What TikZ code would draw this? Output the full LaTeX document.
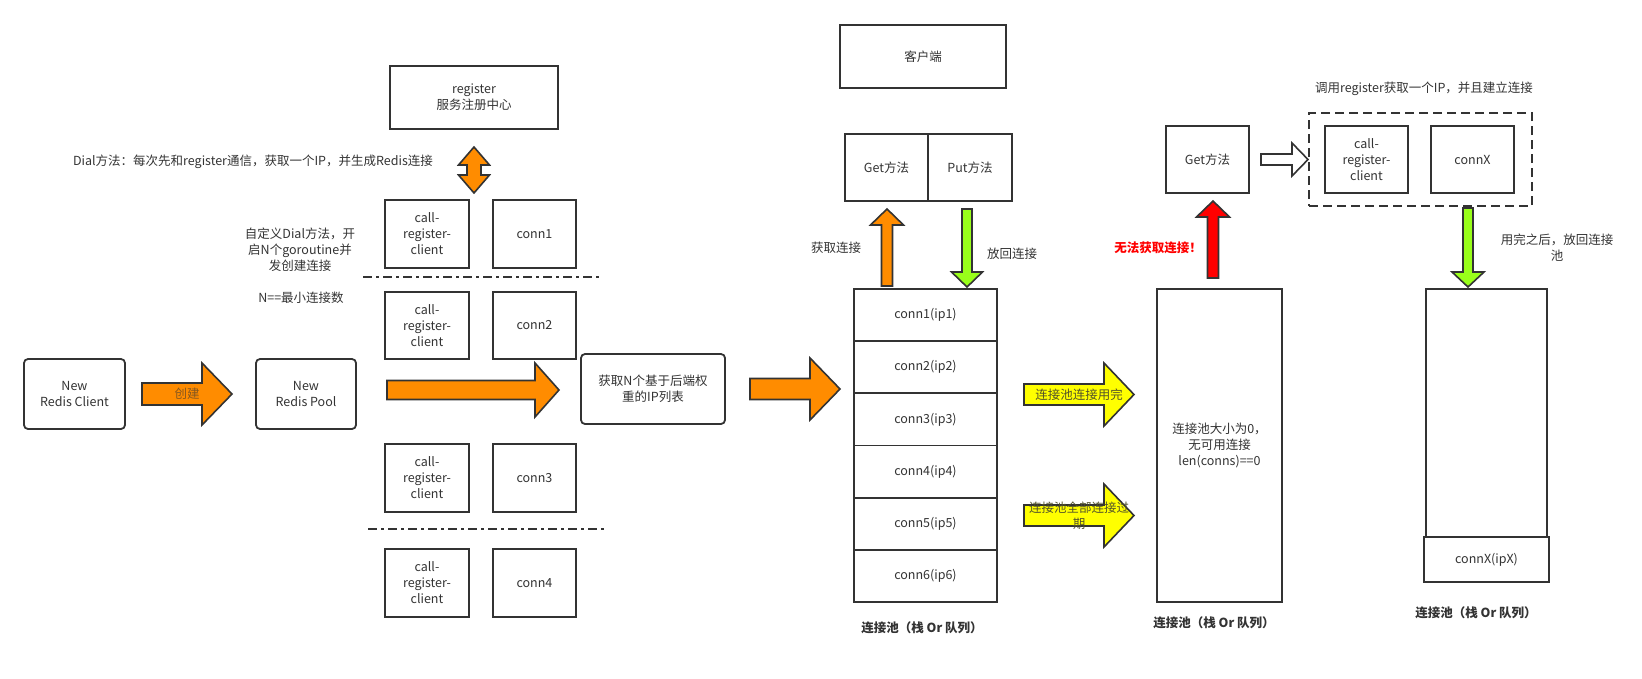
\documentclass[tikz,border=0pt]{standalone}
\usepackage{fontspec}
\setmainfont{Noto Sans CJK SC}
\definecolor{linec}{HTML}{333333}
\definecolor{textc}{HTML}{333333}
\definecolor{orangef}{HTML}{FF8C00}
\definecolor{greenf}{HTML}{99FF1A}
\definecolor{redf}{HTML}{FF0000}
\definecolor{yellowf}{HTML}{FFFF00}
\newcommand\blkR[7]{% fill, x tail, x head base, x tip, y centre, body half, head half
  \filldraw[blk, fill=#1] (#2,#5-#6) -- (#3,#5-#6) -- (#3,#5-#7) -- (#4,#5) -- (#3,#5+#7) -- (#3,#5+#6) -- (#2,#5+#6) -- cycle;}
\newcommand\blkV[7]{% fill, x centre, y tail, y head base, y tip, body half, head half
  \filldraw[blk, fill=#1] (#2-#6,#3) -- (#2-#6,#4) -- (#2-#7,#4) -- (#2,#5) -- (#2+#7,#4) -- (#2+#6,#4) -- (#2+#6,#3) -- cycle;}
\begin{document}
\begin{tikzpicture}[x=1pt,y=-1pt,
  font=\fontsize{12.5}{16}\selectfont, text=textc,
  box/.style={draw=linec, line width=1.8pt, fill=white, align=center, inner sep=0pt},
  rbox/.style={box, rounded corners=4pt},
  lbl/.style={align=center, inner sep=0pt},
  blk/.style={draw=linec, line width=1.6pt, line join=miter},
  dashdot/.style={draw=linec, line width=2pt, dash pattern=on 9pt off 4pt on 3pt off 4pt},
  plabel/.style={lbl, font=\fontsize{12.5}{16}\selectfont\bfseries}]
\useasboundingbox (0,0) rectangle (1642,678);

% ---------- left part ----------
\node[rbox, minimum width=101pt, minimum height=70pt] (client) at (74.5,394) {New\\Redis Client};
\node[rbox, minimum width=100pt, minimum height=70pt] (pool) at (306,394) {New\\Redis Pool};
\blkR{orangef}{142}{202}{232}{394}{11}{31}
\node[lbl, text=textc!60!orangef] (cj) at (187,394) {创建};

\node[box, minimum width=168pt, minimum height=63pt] (register) at (474,97.5) {register\\服务注册中心};
\filldraw[blk, fill=orangef] (474,147) -- (489.5,165) -- (481,165) -- (481,175) -- (489.5,175) -- (474,193)
  -- (458.5,175) -- (467,175) -- (467,165) -- (458.5,165) -- cycle;
\node[lbl] (dial) at (253,162) {Dial方法：每次先和register通信，获取一个IP，并生成Redis连接};
\node[lbl] (custom) at (300,250) {自定义Dial方法，开\\启N个goroutine并\\发创建连接};
\node[lbl] (nmin) at (301,298) {N==最小连接数};

\foreach \i/\cy/\h in {1/234/68, 2/325.5/67, 3/478/68, 4/583/68}{
  \node[box, minimum width=84pt, minimum height=\h pt] (crc\i) at (427,\cy) {call-\\register-\\client};
  \node[box, minimum width=83pt, minimum height=\h pt] (conn\i) at (534.5,\cy) {conn\i};
}
\coordinate (d1a) at (363,277); \coordinate (d1b) at (602,277);
\coordinate (d2a) at (368,529); \coordinate (d2b) at (607,529);
\draw[dashdot] (d1a) -- (d1b);
\draw[dashdot] (d2a) -- (d2b);

\blkR{orangef}{387}{535}{559}{390}{9.5}{27}
\node[rbox, minimum width=144pt, minimum height=70pt] (iplist) at (653,389) {获取N个基于后端权\\重的IP列表};
\blkR{orangef}{750}{810}{840}{389}{10.5}{31}

% ---------- middle part ----------
\node[box, minimum width=166pt, minimum height=63pt] (kehu) at (923,56.5) {客户端};
\node[box, minimum width=83pt, minimum height=67pt] (get) at (886.5,167.5) {Get方法};
\node[box, minimum width=84pt, minimum height=67pt] (put) at (970,167.5) {Put方法};
\foreach \i in {1,...,6}{
  \node[box, minimum width=143pt, minimum height=52.17pt] (s\i) at (925.5,289+52.17*\i-26.085) {conn\i(ip\i)};
}
\node[plabel] (slabel) at (922,628) {连接池（栈 Or 队列）};
\blkV{orangef}{887}{286}{225}{209}{5.5}{16.5}
\blkV{greenf}{967}{209}{272}{287}{5}{15.5}
\node[lbl] (hq) at (836,248) {获取连接};
\node[lbl] (fh) at (1012,254) {放回连接};

\blkR{yellowf}{1024}{1104}{1134}{394.5}{10.5}{31.5}
\node[lbl, text=textc!85!yellowf] (y1) at (1079,395) {连接池连接用完};
\blkR{yellowf}{1024}{1104}{1134}{515.5}{10.5}{31.5}
\node[lbl, text=textc!85!yellowf] (y2) at (1079,516) {连接池全部连接过\\期};

% ---------- empty pool ----------
\node[box, minimum width=125pt, minimum height=313pt] (pool2) at (1219.5,445.5) {连接池大小为0，\\无可用连接\\len(conns)==0};
\node[plabel] (p2label) at (1214,623) {连接池（栈 Or 队列）};
\node[box, minimum width=83pt, minimum height=67pt] (get2) at (1207.5,159.5) {Get方法};
\blkV{redf}{1213}{278}{217}{201}{5.5}{16.5}
\node[lbl, text=redf, font=\fontsize{12.5}{16}\selectfont\bfseries] (nofail) at (1158,248) {无法获取连接！};

% ---------- right part ----------
\node[lbl] (callreg) at (1424,89) {调用register获取一个IP，并且建立连接};
\node[draw=linec, line width=2pt, dash pattern=on 9pt off 5pt, minimum width=223pt, minimum height=93pt, inner sep=0pt] (dbox) at (1420.5,159.5) {};
\node[box, minimum width=83pt, minimum height=67pt] (crcX) at (1366.5,159.5) {call-\\register-\\client};
\node[box, minimum width=83pt, minimum height=67pt] (connX) at (1472.5,159.5) {connX};
\filldraw[blk, fill=white] (1261,154) -- (1292,154) -- (1292,143) -- (1308,159.5) -- (1292,176) -- (1292,165) -- (1261,165) -- cycle;
\blkV{greenf}{1468}{208}{272}{287}{5}{16}
\node[lbl] (ywan) at (1557,248) {用完之后，放回连接\\池};
\node[box, minimum width=121pt, minimum height=248pt] (pool3) at (1486.5,413) {};
\node[box, minimum width=125pt, minimum height=45pt] (connXip) at (1486.5,559.5) {connX(ipX)};
\node[plabel] (p3label) at (1476,613) {连接池（栈 Or 队列）};
\end{tikzpicture}
\end{document}
